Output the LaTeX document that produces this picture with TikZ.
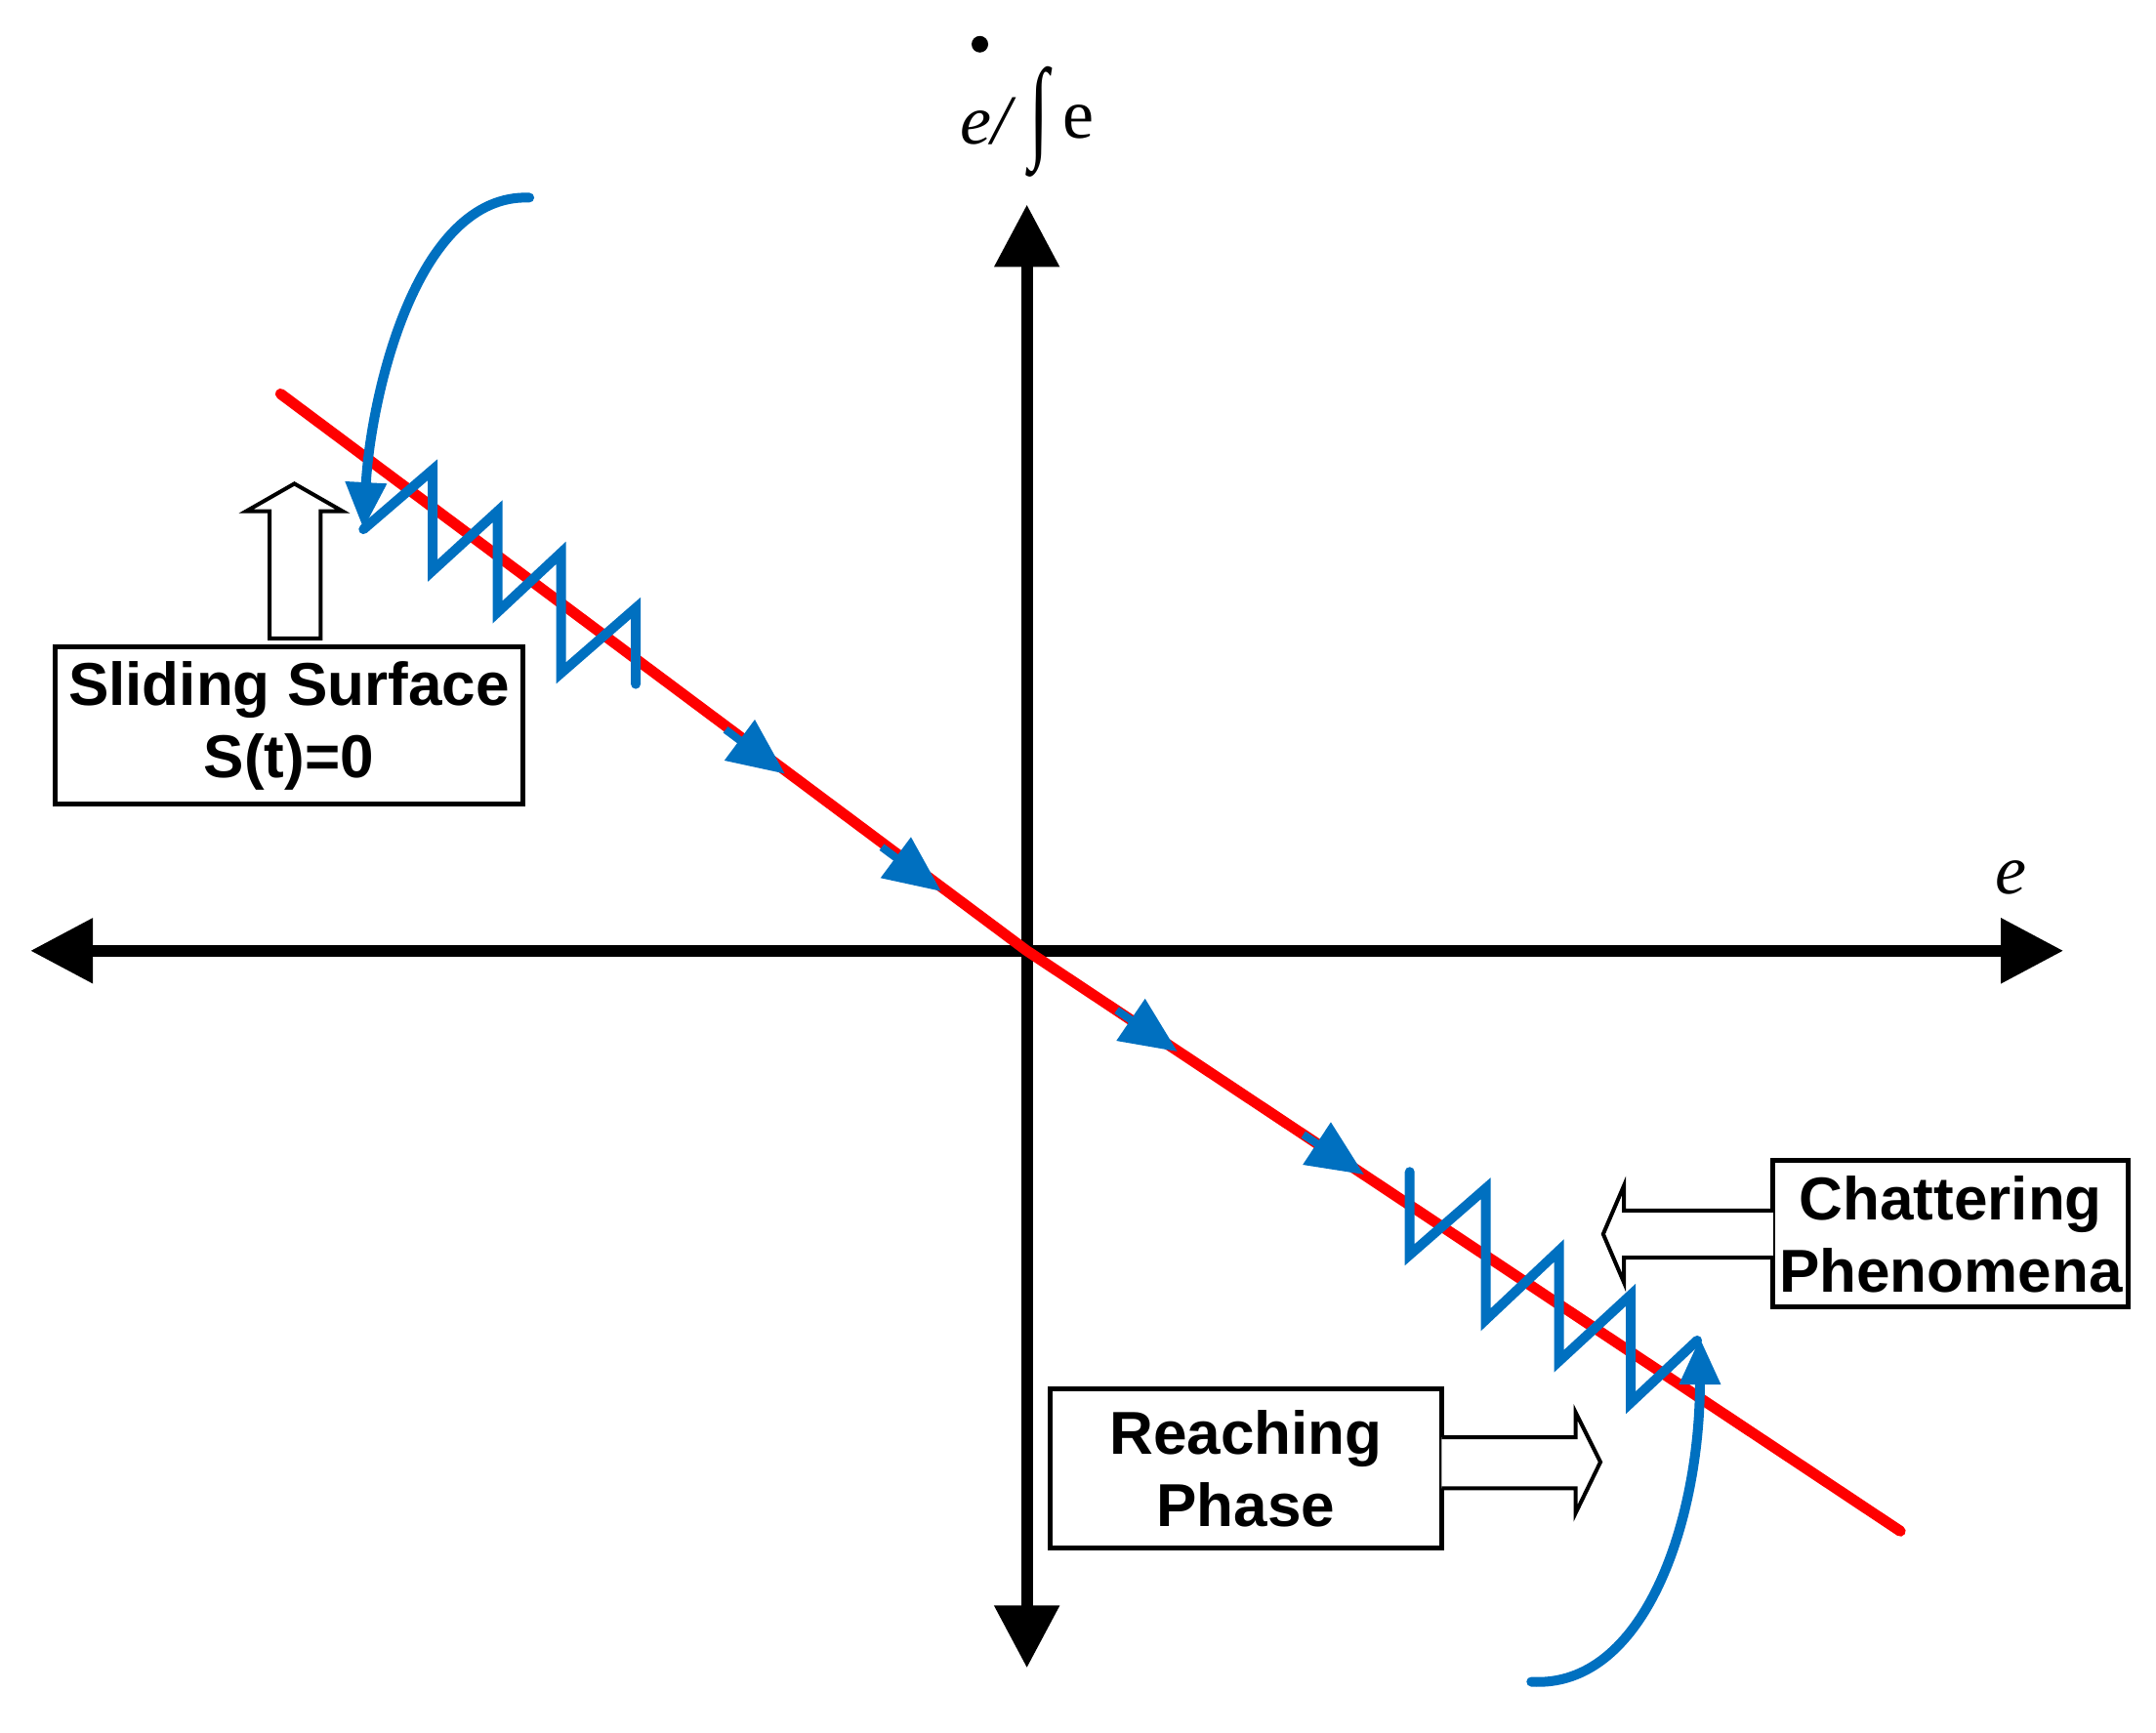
\documentclass[tikz,border=0pt]{standalone}
\usepackage{fontspec}
\setmainfont{Liberation Serif}
\newfontfamily\boxfont{Liberation Sans}
\usetikzlibrary{arrows.meta}
\definecolor{bl}{RGB}{0,112,192}
\begin{document}
\begin{tikzpicture}[x=1.415pt,y=-1.415pt,
  axis/.style={line width=12pt,-{Triangle[length=64pt,width=64pt]}},
  blu/.style={bl,line width=10pt,line join=miter,line cap=round},
  mk/.style={bl,line width=8pt,-{Triangle[length=58pt,width=50pt]}},
  box/.style={draw,line width=5pt,inner sep=0pt,font=\boxfont\bfseries\fontsize{62}{74}\selectfont,align=center},
  hol/.style={draw,line width=4pt,fill=white,line join=miter}]
\useasboundingbox (0,0) rectangle (1560,1253.7);
% axes
\coordinate (O) at (743,688);
\coordinate (T) at (743,148); \coordinate (B) at (743,1207);
\coordinate (L) at (22,688); \coordinate (R) at (1493,688);
\draw[axis] (O) -- (T);
\draw[axis] (O) -- (B);
\draw[axis] (O) -- (L);
\draw[axis] (O) -- (R);
% sliding line
\coordinate (s1) at (203,285); \coordinate (s2) at (1375,1108);
\draw[red,line width=11pt,line cap=round] (s1) -- (O) -- (s2);
% markers
\coordinate (m1a) at (525,528); \coordinate (m1b) at (568,560);
\coordinate (m2a) at (638,613); \coordinate (m2b) at (681,645);
\coordinate (m3a) at (808,731); \coordinate (m3b) at (852,761);
\coordinate (m4a) at (943,821); \coordinate (m4b) at (987,850);
\foreach \a/\b in {m1a/m1b,m2a/m2b,m3a/m3b,m4a/m4b} \draw[mk] (\a) -- (\b);
% zigzags
\draw[blu] (263,383) -- (313,340) -- (313,413) -- (360,370) -- (360,443) -- (406,400) -- (406,487) -- (460,440) -- (460,495);
\draw[blu] (1020,848) -- (1020,908) -- (1075,860) -- (1075,955) -- (1128,905) -- (1128,985) -- (1180,937) -- (1180,1015) -- (1228,970);
% curved arrows
\coordinate (c1) at (383,143); \coordinate (c1e) at (263,383);
\draw[blu,-{Triangle[length=48pt,width=40pt]}] (c1) .. controls (300,140) and (268,290) .. (c1e);
\coordinate (c2) at (1108,1217); \coordinate (c2e) at (1230,968);
\draw[blu,-{Triangle[length=48pt,width=40pt]}] (c2) .. controls (1190,1222) and (1230,1100) .. (c2e);
% boxes
\node[box,minimum width=338*1.415pt,minimum height=114*1.415pt] (ss) at (209,525) {Sliding Surface\\S(t)=0};
\node[box,minimum width=257*1.415pt,minimum height=106*1.415pt] (ch) at (1411.5,893) {Chattering\\Phenomena};
\node[box,minimum width=283*1.415pt,minimum height=115*1.415pt] (rp) at (901.5,1062.5) {Reaching\\Phase};
% hollow arrows
\draw[hol] (195,462) -- (195,370) -- (178,370) -- (213,350) -- (248,370) -- (232,370) -- (232,462) -- cycle;
\draw[hol] (1283,876) -- (1175,876) -- (1175,858) -- (1160,893) -- (1175,928) -- (1175,910) -- (1283,910);
\draw[hol] (1043,1040) -- (1140,1040) -- (1140,1022) -- (1158,1058) -- (1140,1095) -- (1140,1077) -- (1043,1077);
% labels
\node[font=\fontsize{72}{80}\selectfont\itshape,inner sep=0pt] (ye) at (713,88) {e/};
\node[font=\fontsize{72}{80}\selectfont,inner sep=0pt] (yi) at (752,88) {\scalebox{1}[1.6]{∫}};
\node[font=\fontsize{72}{80}\selectfont,inner sep=0pt] (ye2) at (780,88) {e};
\fill (709,32) circle (6);
\node[font=\fontsize{72}{80}\selectfont\itshape,inner sep=0pt] (xl) at (1455,635) {e};
\end{tikzpicture}
\end{document}
